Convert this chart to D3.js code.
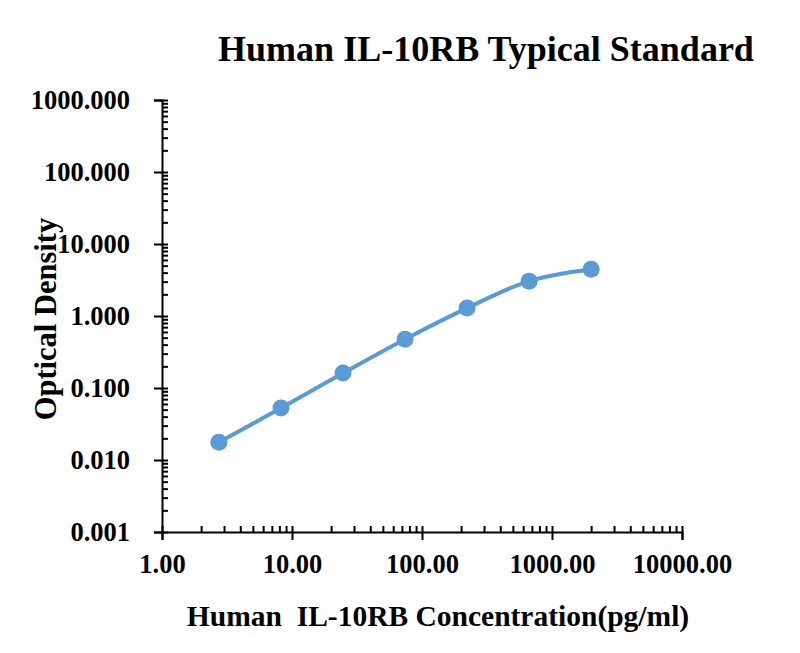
<!DOCTYPE html>
<html>
<head>
<meta charset="utf-8">
<script src="https://cdn.jsdelivr.net/npm/d3@7"></script>
<style>
  body { margin: 0; background: #fff; overflow: hidden; }
  svg { display: block; }
  text { font-family: "Liberation Serif", "Times New Roman", serif; font-weight: bold; fill: #000; }
</style>
</head>
<body>
<svg id="chart" width="800" height="653"></svg>
<script>
// Standard curve data (concentration pg/ml vs OD)
const concentrations = [2.74, 8.23, 24.69, 74.07, 222.2, 666.7, 2000];
const opticalDensity = [0.0177, 0.0526, 0.161, 0.477, 1.288, 3.05, 4.45];
const xTicks = [1, 10, 100, 1000, 10000];
const yTicks = [0.001, 0.01, 0.1, 1, 10, 100, 1000];

const width = 800;
const height = 653;
const margin = { top: 100, right: 118, bottom: 121, left: 162 };
const innerWidth = width - margin.left - margin.right;
const innerHeight = height - margin.top - margin.bottom;
const lineColor = "#5b9bd5";

const svg = d3.select("#chart");
const innerChart = svg.append("g")
    .attr("transform", `translate(${margin.left},${margin.top})`);

const xScale = d3.scaleLog().domain([1, 10000]).range([0, innerWidth]);
const yScale = d3.scaleLog().domain([0.001, 1000]).range([innerHeight, 0]);

// minor ticks: 2..9 within each decade
const minorTicks = ticks => {
    const out = [];
    for (let i = 0; i < ticks.length - 1; i++) {
        for (let k = 2; k <= 9; k++) out.push(ticks[i] * k);
    }
    return out;
};

// X axis
const bottomAxis = d3.axisBottom(xScale)
    .tickValues(xTicks)
    .tickSize(8)
    .tickPadding(14)
    .tickFormat(d3.format(".2f"));
const xAxisG = innerChart.append("g")
    .attr("transform", `translate(0, ${innerHeight})`)
    .call(bottomAxis);
xAxisG.selectAll(".tick line").attr("y1", -6);

innerChart.append("g")
    .attr("transform", `translate(0, ${innerHeight})`)
    .call(d3.axisTop(xScale).tickValues(minorTicks(xTicks)).tickSize(6).tickFormat(""))
    .call(g => g.select(".domain").remove())
    .call(g => g.selectAll("text").remove());

// Y axis
const leftAxis = d3.axisLeft(yScale)
    .tickValues(yTicks)
    .tickSize(8)
    .tickPadding(24)
    .tickFormat(d3.format(".3f"));
const yAxisG = innerChart.append("g")
    .call(leftAxis);
yAxisG.selectAll(".tick line").attr("x1", 6);

innerChart.append("g")
    .call(d3.axisRight(yScale).tickValues(minorTicks(yTicks)).tickSize(6).tickFormat(""))
    .call(g => g.select(".domain").remove())
    .call(g => g.selectAll("text").remove());

innerChart.selectAll(".domain").attr("stroke-width", 2);
innerChart.selectAll(".tick line").attr("stroke-width", 2).attr("stroke", "#000");
innerChart.selectAll(".tick text")
    .attr("font-size", 26.5)
    .attr("font-family", "Liberation Serif")
    .attr("font-weight", "bold");

// Curve
const points = concentrations.map((c, i) => ({ x: c, y: opticalDensity[i] }));
const line = d3.line()
    .x(d => xScale(d.x))
    .y(d => yScale(d.y))
    .curve(d3.curveCatmullRom.alpha(0.5));

innerChart.append("path")
    .datum(points)
    .attr("d", line)
    .attr("fill", "none")
    .attr("stroke", lineColor)
    .attr("stroke-width", 4);

innerChart.selectAll("circle")
    .data(points)
    .join("circle")
    .attr("cx", d => xScale(d.x))
    .attr("cy", d => yScale(d.y))
    .attr("r", 8.5)
    .attr("fill", lineColor);

// Titles
svg.append("text")
    .text("Human IL-10RB Typical Standard")
    .attr("x", 486)
    .attr("y", 61)
    .attr("text-anchor", "middle")
    .attr("font-size", 36);

svg.append("text")
    .text("Human  IL-10RB Concentration(pg/ml)")
    .attr("x", 438)
    .attr("y", 626)
    .attr("text-anchor", "middle")
    .attr("font-size", 29.5)
    .style("white-space", "pre");

svg.append("text")
    .text("Optical Density")
    .attr("transform", "translate(56, 319) rotate(-90)")
    .attr("text-anchor", "middle")
    .attr("font-size", 30.5);
</script>
</body>
</html>
